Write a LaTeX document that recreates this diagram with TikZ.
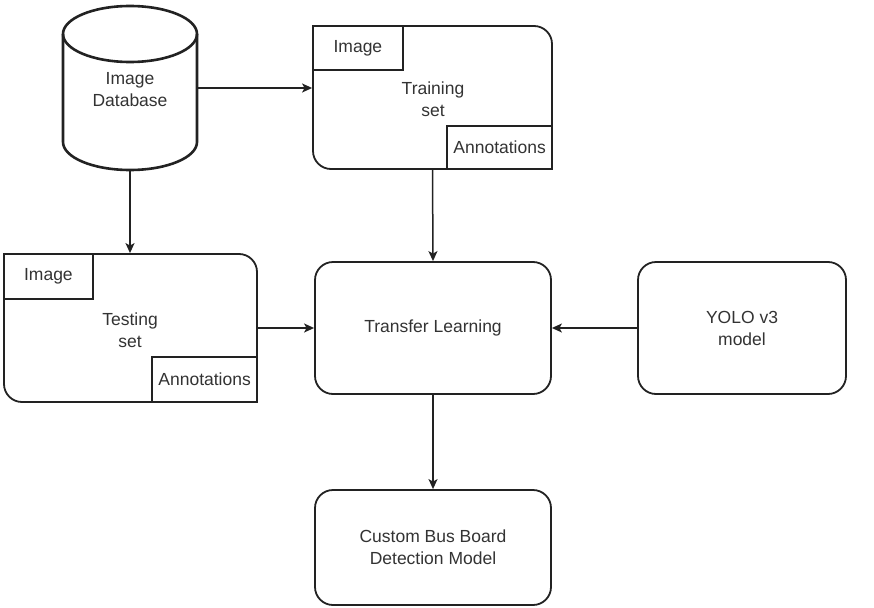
\documentclass[tikz,border=0pt]{standalone}
\usepackage{fontspec}
\setmainfont{Liberation Sans}
\usetikzlibrary{arrows.meta}
\definecolor{ink}{HTML}{222222}
\definecolor{txt}{HTML}{333333}
\tikzset{
  box/.style={draw=ink, line width=1.8pt, rounded corners=18pt, fill=white,
    align=center, text=txt, inner sep=0pt},
  tag/.style={draw=ink, line width=1.6pt, fill=white, text=txt, inner sep=0pt,
    align=center},
  conn/.style={draw=ink, line width=1.5pt, -{Stealth[length=10pt,width=9pt,inset=2.5pt]}},
}
\begin{document}
\begin{tikzpicture}[x=1pt, y=-1pt, font=\fontsize{17.5}{22}\selectfont]
\useasboundingbox (0,0) rectangle (874,607);

% image database drum
\node (db) [minimum width=134pt, minimum height=164pt, inner sep=0pt,
  text=txt, align=center] at (130,88) {};
\draw[ink, line width=2.6pt, fill=white]
  (63,34) -- (63,142) arc[start angle=180, end angle=360, x radius=67pt, y radius=28pt]
  -- (197,34) arc[start angle=0, end angle=180, x radius=67pt, y radius=28pt] -- cycle;
\draw[ink, line width=2.6pt]
  (63,34) arc[start angle=180, end angle=360, x radius=67pt, y radius=28pt];
\node[text=txt, align=center] at (130,90) {Image\\Database};

% training set
\node (train) [box, minimum width=239pt, minimum height=143pt] at (432.5,97.5) {};
\node[tag, minimum width=90pt, minimum height=44pt, anchor=north west]
  (trimg) at (train.north west) {Image};
\node[tag, minimum width=105pt, minimum height=43pt, anchor=south east]
  (trann) at (train.south east) {Annotations};
\node[text=txt, align=center] at (433,99) {Training\\set};

% testing set
\node (test) [box, minimum width=253pt, minimum height=148pt] at (130.5,328) {};
\node[tag, minimum width=89pt, minimum height=45pt, anchor=north west]
  (teimg) at (test.north west) {Image};
\node[tag, minimum width=105pt, minimum height=45pt, anchor=south east]
  (teann) at (test.south east) {Annotations};
\node[text=txt, align=center] at (130,330) {Testing\\set};

% learning stage, base model and result
\node (trans) [box, minimum width=236pt, minimum height=132pt] at (433,328) {Transfer Learning};
\node (yolo) [box, minimum width=208pt, minimum height=132pt] at (742,328) {YOLO v3\\model};
\node (custom) [box, minimum width=236pt, minimum height=115pt] at (433,547.5)
  {Custom Bus Board\\Detection Model};

% connectors
\draw[conn] (db.east) -- (db.east -| train.west);
\draw[conn] (db.south) -- (db.south |- test.north);
\draw[conn] (train.south) -- (trans.north);
\draw[conn] (test.east) -- (trans.west);
\draw[conn] (yolo.west) -- (trans.east);
\draw[conn] (trans.south) -- (custom.north);
\end{tikzpicture}
\end{document}
